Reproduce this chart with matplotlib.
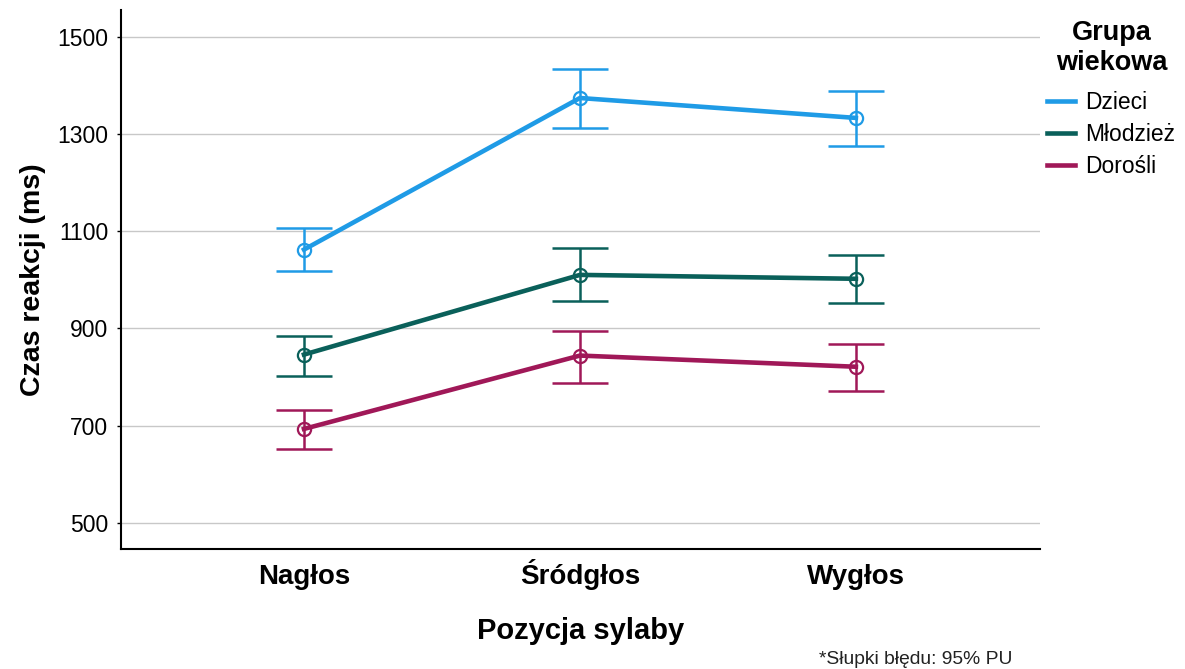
import numpy as np
import matplotlib.pyplot as plt

plt.rcParams['font.family'] = ['Liberation Sans', 'DejaVu Sans']

# Data
positions = ['Nagłos', 'Śródgłos', 'Wygłos']
groups = ['Dzieci', 'Młodzież', 'Dorośli']
colors = ['#1f9be6', '#0a605a', '#a01858']

dzieci_mean = [1062, 1374, 1333]
dzieci_low = [1017, 1313, 1276]
dzieci_high = [1107, 1434, 1389]

mlodziez_mean = [846, 1010, 1002]
mlodziez_low = [802, 957, 953]
mlodziez_high = [885, 1066, 1051]

dorosli_mean = [693, 844, 821]
dorosli_low = [652, 788, 772]
dorosli_high = [733, 895, 868]

means = [dzieci_mean, mlodziez_mean, dorosli_mean]
lows = [dzieci_low, mlodziez_low, dorosli_low]
highs = [dzieci_high, mlodziez_high, dorosli_high]

yticks = [500, 700, 900, 1100, 1300, 1500]

fig = plt.figure(figsize=(11.85, 6.69), dpi=100)
ax = fig.add_axes([0.1021, 0.1794, 0.7755, 0.8056])

x = np.arange(len(positions))
for name, col, m, lo, hi in zip(groups, colors, means, lows, highs):
    m = np.array(m)
    err = np.vstack([m - np.array(lo), np.array(hi) - m])
    ax.errorbar(x, m, yerr=err, fmt='none', ecolor=col, elinewidth=1.8,
                capsize=20, capthick=1.8, zorder=3)
    ax.plot(x, m, '-', color=col, lw=3.3, zorder=4, label=name)
    ax.plot(x, m, 'o', color=col, mfc='none', mec=col, ms=9.5, mew=1.6,
            zorder=5)

ax.set_xlim(-0.663, 2.667)
ax.set_ylim(446, 1555)
ax.set_xticks(x)
ax.set_xticklabels(positions, fontsize=20, fontweight='bold', va='baseline')
ax.set_yticks(yticks)
ax.set_yticklabels([str(t) for t in yticks], fontsize=16.5)
ax.tick_params(axis='x', length=0, pad=25)
ax.tick_params(axis='y', length=3, width=1, pad=6)
ax.grid(axis='y', color='#c8c8c8', lw=1)
ax.set_axisbelow(True)
for s in ['top', 'right']:
    ax.spines[s].set_visible(False)
for s in ['left', 'bottom']:
    ax.spines[s].set_linewidth(1.5)

ax.set_xlabel('Pozycja sylaby', fontsize=21, fontweight='bold', labelpad=20)
ax.set_ylabel('Czas reakcji (ms)', fontsize=20.5, fontweight='bold', labelpad=8)

# legend title drawn separately, centred above the entries
fig.text(1112 / 1185, 1 - 48 / 669, 'Grupa\nwiekowa', ha='center', va='center',
         fontsize=19.5, fontweight='bold', linespacing=1.15)
leg = fig.legend(loc='upper left', bbox_to_anchor=(1047 / 1185, 1 - 91 / 669),
                 frameon=False, fontsize=16.5, handlelength=1.2,
                 handletextpad=0.45, labelspacing=0.39, borderpad=0,
                 borderaxespad=0)

fig.text(0.854, 0.008, '*Słupki błędu: 95% PU', fontsize=13.9, ha='right',
         color='#222222')

fig.savefig('out.png', dpi=100)
